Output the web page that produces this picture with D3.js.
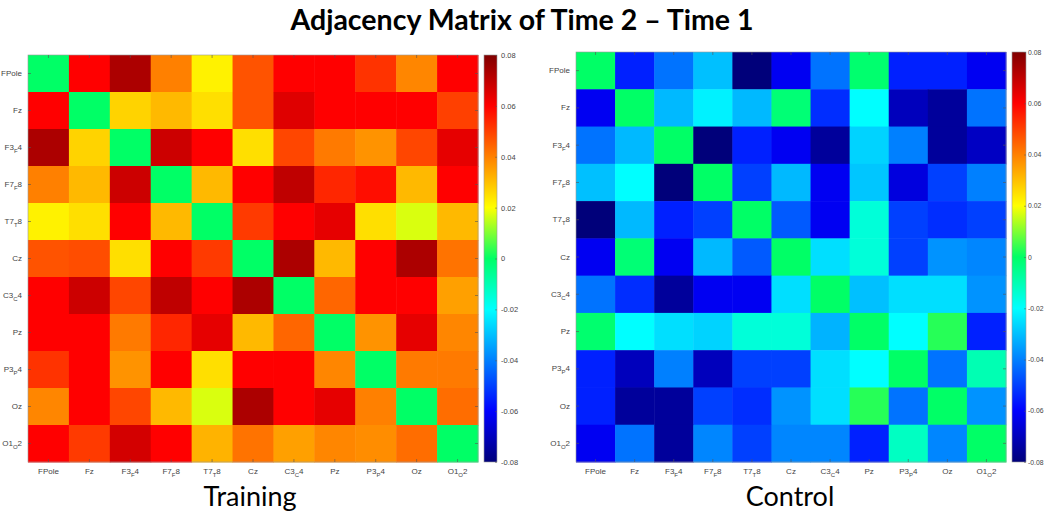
<!DOCTYPE html>
<html>
<head>
<meta charset="utf-8">
<script src="https://cdn.jsdelivr.net/npm/d3@7"></script>
<style>
  body { margin: 0; background: #fff; }
  text { font-family: "Liberation Sans", Arial, sans-serif; }
</style>
</head>
<body>
<div id="app"></div>
<script>
// channel names, "_" marks a subscript letter
const channels = ['FPole', 'Fz', 'F3_F4', 'F7_F8', 'T7_T8', 'Cz', 'C3_C4', 'Pz', 'P3_P4', 'Oz', 'O1_O2']

const training = [
  [0, 0.060, 0.073, 0.040, 0.022, 0.047, 0.060, 0.060, 0.052, 0.039, 0.060],
  [0.060, 0, 0.027, 0.031, 0.025, 0.047, 0.065, 0.060, 0.060, 0.060, 0.050],
  [0.073, 0.027, 0, 0.068, 0.060, 0.025, 0.049, 0.041, 0.037, 0.049, 0.064],
  [0.040, 0.031, 0.068, 0, 0.031, 0.060, 0.070, 0.054, 0.058, 0.031, 0.060],
  [0.022, 0.025, 0.060, 0.031, 0, 0.051, 0.060, 0.064, 0.025, 0.017, 0.031],
  [0.047, 0.048, 0.025, 0.060, 0.051, 0, 0.073, 0.031, 0.060, 0.073, 0.042],
  [0.060, 0.068, 0.049, 0.070, 0.060, 0.073, 0, 0.044, 0.060, 0.060, 0.035],
  [0.060, 0.060, 0.041, 0.054, 0.064, 0.031, 0.044, 0, 0.037, 0.064, 0.039],
  [0.052, 0.060, 0.037, 0.060, 0.025, 0.060, 0.060, 0.039, 0, 0.041, 0.041],
  [0.039, 0.060, 0.049, 0.031, 0.017, 0.073, 0.060, 0.064, 0.040, 0, 0.043],
  [0.060, 0.051, 0.067, 0.060, 0.032, 0.042, 0.035, 0.039, 0.038, 0.043, 0]
]

const control = [
  [0, -0.055, -0.042, -0.030, -0.080, -0.062, -0.042, -0.001, -0.055, -0.055, -0.062],
  [-0.062, 0, -0.031, -0.022, -0.031, -0.002, -0.053, -0.020, -0.070, -0.075, -0.042],
  [-0.042, -0.031, 0, -0.080, -0.055, -0.062, -0.075, -0.027, -0.040, -0.075, -0.069],
  [-0.030, -0.020, -0.080, 0, -0.050, -0.031, -0.062, -0.029, -0.065, -0.050, -0.040],
  [-0.080, -0.031, -0.055, -0.050, 0, -0.046, -0.062, -0.015, -0.050, -0.053, -0.050],
  [-0.062, -0.002, -0.062, -0.031, -0.046, 0, -0.025, -0.015, -0.050, -0.037, -0.039],
  [-0.042, -0.053, -0.075, -0.062, -0.062, -0.025, 0, -0.030, -0.025, -0.025, -0.037],
  [-0.001, -0.020, -0.025, -0.027, -0.015, -0.015, -0.032, 0, -0.020, 0.003, -0.055],
  [-0.055, -0.070, -0.040, -0.070, -0.050, -0.050, -0.025, -0.020, 0, -0.042, -0.010],
  [-0.055, -0.075, -0.075, -0.050, -0.053, -0.037, -0.025, 0.003, -0.042, 0, -0.037],
  [-0.062, -0.042, -0.075, -0.039, -0.050, -0.039, -0.039, -0.055, -0.012, -0.039, 0]
]

const cbarTicks = [0.08, 0.06, 0.04, 0.02, 0, -0.02, -0.04, -0.06, -0.08]

// jet-like colour map used by the figure
const color = d3.scaleLinear()
  .domain([-0.08, -0.06, -0.04, -0.02, 0, 0.02, 0.04, 0.06, 0.08])
  .range(['#00007a', '#0000ff', '#0080ff', '#00ffff', '#00ff66', '#ffff00', '#ff8000', '#ff0000', '#800000'])
  .clamp(true)

const W = 1045, H = 514
const svg = d3.select('#app').append('svg').attr('width', W).attr('height', H)
svg.append('rect').attr('width', W).attr('height', H).attr('fill', '#fff')

svg.append('text')
  .attr('x', 522).attr('y', 30)
  .attr('text-anchor', 'middle')
  .style('font-family', 'Lato, "Open Sans", sans-serif')
  .style('font-weight', 'bold')
  .style('font-size', '28.5px')
  .attr('fill', '#000')
  .text('Adjacency Matrix of Time 2 \u2013 Time 1')

function writeLabel(sel) {
  sel.each(function(d) {
    let t = d3.select(this).text('')
    let m = d.match(/^(.*?)_(.)(.*)$/)
    if (!m) { t.text(d); return }
    t.append('tspan').text(m[1])
    t.append('tspan').attr('dy', 3).style('font-size', '6px').text(m[2])
    t.append('tspan').attr('dy', -3).text(m[3])
  })
}

function panel(matrix, box, caption) {
  const x = d3.scaleBand().domain(channels).range([box.x0, box.x1])
  const y = d3.scaleBand().domain(channels).range([box.y0, box.y1])
  const g = svg.append('g')

  matrix.forEach((row, i) => {
    g.selectAll(null).data(row).enter().append('rect')
      .attr('x', (v, j) => x(channels[j]))
      .attr('y', y(channels[i]))
      .attr('width', x.bandwidth() + 0.5)
      .attr('height', y.bandwidth() + 0.5)
      .attr('fill', v => color(v))
  })

  g.append('rect')
    .attr('x', box.x0).attr('y', box.y0)
    .attr('width', box.x1 - box.x0).attr('height', box.y1 - box.y0)
    .attr('fill', 'none').attr('stroke', '#999').attr('stroke-width', 0.6)

  const axes = [
    [d3.axisLeft(y), `translate(${box.x0},0)`, true],
    [d3.axisBottom(x), `translate(0,${box.y1})`, true],
    [d3.axisTop(x), `translate(0,${box.y0})`, false],
    [d3.axisRight(y), `translate(${box.x1},0)`, false]
  ]
  axes.forEach(([ax, tr, withText]) => {
    let a = g.append('g').attr('transform', tr)
      .call(ax.tickSizeInner(-3).tickSizeOuter(0).tickPadding(6))
    a.select('.domain').remove()
    a.selectAll('.tick line').attr('stroke', '#555').attr('stroke-opacity', 0.6)
    let txt = a.selectAll('.tick text')
      .style('font-family', '"Liberation Sans", Arial, sans-serif')
      .style('font-size', '8px').attr('fill', '#444')
    if (withText) txt.call(writeLabel)
    else txt.remove()
  })

  // colour bar
  const cy = d3.scaleLinear().domain([-0.08, 0.08]).range([box.y1, box.y0])
  const gid = 'grad' + caption
  const grad = svg.append('defs').append('linearGradient')
    .attr('id', gid).attr('x1', 0).attr('y1', 1).attr('x2', 0).attr('y2', 0)
  grad.selectAll('stop').data(color.domain()).enter().append('stop')
    .attr('offset', d => (d + 0.08) / 0.16)
    .attr('stop-color', d => color(d))
  g.append('rect')
    .attr('x', box.cx).attr('y', box.y0)
    .attr('width', box.cw).attr('height', box.y1 - box.y0)
    .attr('fill', `url(#${gid})`).attr('stroke', '#999').attr('stroke-width', 0.6)
  let ca = g.append('g').attr('transform', `translate(${box.cx + box.cw},0)`)
    .call(d3.axisRight(cy).tickValues(cbarTicks).tickSizeInner(-2).tickSizeOuter(0).tickPadding(box.cpad)
      .tickFormat(v => v === 0 ? '0' : v.toFixed(2)))
  ca.select('.domain').remove()
  ca.selectAll('.tick line').attr('stroke', '#555').attr('stroke-opacity', 0.5)
  ca.selectAll('.tick text')
    .style('font-family', '"Liberation Sans", Arial, sans-serif')
    .style('font-size', box.cfont).attr('fill', '#444')

  svg.append('text')
    .attr('x', box.capX).attr('y', 506)
    .attr('text-anchor', 'middle')
    .style('font-family', 'Lato, "Open Sans", sans-serif')
    .style('font-size', '27px')
    .attr('fill', '#000')
    .text(caption)
}

panel(training, { x0: 28, x1: 478, y0: 55, y1: 462, cx: 484, cw: 13, cpad: 4, cfont: '7.5px', capX: 250 }, 'Training')
panel(control, { x0: 576, x1: 1006, y0: 52, y1: 462, cx: 1012, cw: 14, cpad: 2, cfont: '6.8px', capX: 790 }, 'Control')
</script>
</body>
</html>
